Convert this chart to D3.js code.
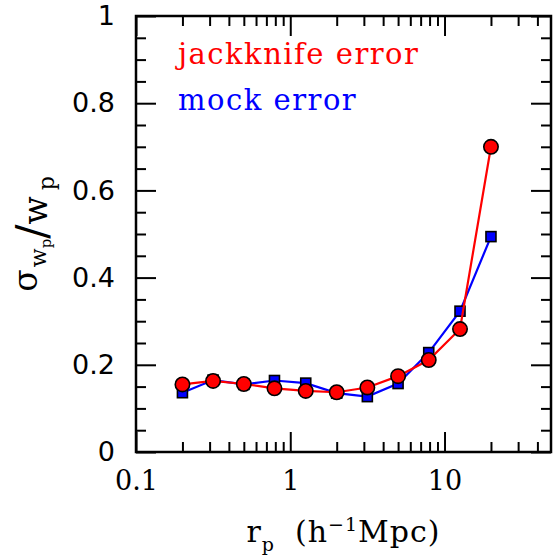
<!DOCTYPE html>
<html>
<head>
<meta charset="utf-8">
<script src="https://cdn.jsdelivr.net/npm/d3@7"></script>
<style>
  body { margin: 0; background: #fff; }
  svg { display: block; }
</style>
</head>
<body>
<div id="chart"></div>
<script>
// ---------------------------------------------------------------------------
// DATA
// ---------------------------------------------------------------------------
const rp = [0.2, 0.316, 0.5, 0.79, 1.26, 2.0, 3.16, 5.0, 7.9, 12.6, 20.0];
const jackknifeErr = [0.155, 0.163, 0.156, 0.146, 0.140, 0.137, 0.148, 0.174, 0.211, 0.282, 0.700];
const mockErr      = [0.136, 0.165, 0.155, 0.164, 0.158, 0.135, 0.127, 0.157, 0.228, 0.323, 0.494];

const xMajor = [0.1, 1, 10];
const xMinor = [0.2, 0.3, 0.4, 0.5, 0.6, 0.7, 0.8, 0.9, 2, 3, 4, 5, 6, 7, 8, 9, 20, 30, 40];
const yMajor = [0, 0.2, 0.4, 0.6, 0.8, 1];
const yMinor = d3.range(0, 1.0001, 0.05).filter(v => Math.abs(v * 5 - Math.round(v * 5)) > 1e-6);

const legendItems = [
  { label: "jackknife error", color: "#ff0000" },
  { label: "mock error",      color: "#0000ff" }
];

// ---------------------------------------------------------------------------
// SVG setup
// ---------------------------------------------------------------------------
const W = 554, H = 558;
const margin = { top: 16, right: 3, bottom: 106, left: 136 };
const width = W - margin.left - margin.right;
const height = H - margin.top - margin.bottom;

const svg = d3.select("#chart").append("svg")
  .attr("width", W)
  .attr("height", H);

const g = svg.append("g")
  .attr("transform", `translate(${margin.left},${margin.top})`);

const x = d3.scaleLog().domain([0.1, 49]).range([0, width]);
const y = d3.scaleLinear().domain([0, 1]).range([height, 0]);

const serif = "'DejaVu Serif', serif";
const sans = "'DejaVu Sans', sans-serif";

// ---------- axes (ticks point inward on all four sides) ----------
function styleAxis(sel) {
  sel.select(".domain").remove();
  sel.selectAll(".tick line").attr("stroke", "#000").attr("stroke-width", 2);
}

// bottom
g.append("g").attr("transform", `translate(0,${height})`)
  .call(d3.axisBottom(x).tickValues(xMajor).tickSize(-20).tickPadding(19)
    .tickFormat(d => d3.format("")(d)))
  .call(styleAxis)
  .call(s => s.selectAll("text").attr("font-family", serif).attr("font-size", 27).attr("fill", "#000"));
g.append("g").attr("transform", `translate(0,${height})`)
  .call(d3.axisBottom(x).tickValues(xMinor).tickSize(-10).tickFormat(""))
  .call(styleAxis);
// top
g.append("g")
  .call(d3.axisTop(x).tickValues(xMajor).tickSize(-20).tickFormat(""))
  .call(styleAxis);
g.append("g")
  .call(d3.axisTop(x).tickValues(xMinor).tickSize(-10).tickFormat(""))
  .call(styleAxis);
// left
g.append("g")
  .call(d3.axisLeft(y).tickValues(yMajor).tickSize(-20).tickPadding(21)
    .tickFormat(d => d3.format("")(+d.toFixed(1))))
  .call(styleAxis)
  .call(s => s.selectAll("text").attr("font-family", sans).attr("font-size", 27).attr("fill", "#000"));
g.append("g")
  .call(d3.axisLeft(y).tickValues(yMinor).tickSize(-10).tickFormat(""))
  .call(styleAxis);
// right
g.append("g").attr("transform", `translate(${width},0)`)
  .call(d3.axisRight(y).tickValues(yMajor).tickSize(-20).tickFormat(""))
  .call(styleAxis);
g.append("g").attr("transform", `translate(${width},0)`)
  .call(d3.axisRight(y).tickValues(yMinor).tickSize(-10).tickFormat(""))
  .call(styleAxis);

// frame
g.append("rect")
  .attr("width", width).attr("height", height)
  .attr("fill", "none").attr("stroke", "#000").attr("stroke-width", 2.5);

// ---------- series ----------
const line = d3.line().x(d => x(d[0])).y(d => y(d[1]));

const mockPts = rp.map((r, i) => [r, mockErr[i]]);
const jackPts = rp.map((r, i) => [r, jackknifeErr[i]]);

g.append("path").datum(mockPts)
  .attr("d", line).attr("fill", "none")
  .attr("stroke", "#0000ff").attr("stroke-width", 2.2);

const sq = 10;
g.selectAll(".sq").data(mockPts).enter().append("rect")
  .attr("class", "sq")
  .attr("x", d => x(d[0]) - sq / 2).attr("y", d => y(d[1]) - sq / 2)
  .attr("width", sq).attr("height", sq)
  .attr("fill", "#0000ff").attr("stroke", "#000").attr("stroke-width", 1.6);

g.append("path").datum(jackPts)
  .attr("d", line).attr("fill", "none")
  .attr("stroke", "#ff0000").attr("stroke-width", 2.2);

g.selectAll(".dot").data(jackPts).enter().append("circle")
  .attr("class", "dot")
  .attr("cx", d => x(d[0])).attr("cy", d => y(d[1]))
  .attr("r", 7.2)
  .attr("fill", "#ff0000").attr("stroke", "#000").attr("stroke-width", 1.6);

// ---------- legend ----------
g.selectAll(".leg").data(legendItems).enter().append("text")
  .attr("class", "leg")
  .attr("x", 42)
  .attr("y", (d, i) => 48 + i * 46)
  .attr("font-family", serif).attr("font-size", 29)
  .attr("letter-spacing", 1.5)
  .attr("fill", d => d.color)
  .text(d => d.label);

// ---------- axis labels ----------
const xl = svg.append("text")
  .attr("x", margin.left + width / 2).attr("y", 542)
  .attr("text-anchor", "middle")
  .attr("font-family", serif).attr("font-size", 30)
  .attr("letter-spacing", 1);
xl.append("tspan").text("r");
xl.append("tspan").attr("font-size", 19).attr("dy", 9).text("p");
xl.append("tspan").attr("dy", -9).attr("dx", 20).text("(h");
xl.append("tspan").attr("font-size", 19).attr("dy", -11).text("−1");
xl.append("tspan").attr("dy", 11).text("Mpc)");

const yl = svg.append("text")
  .attr("transform", `translate(37,${margin.top + height / 2}) rotate(-90)`)
  .attr("text-anchor", "middle")
  .attr("font-family", serif).attr("font-size", 33);
yl.append("tspan").text("σ");
yl.append("tspan").attr("font-size", 22).attr("dy", 9).attr("dx", 2).text("w");
yl.append("tspan").attr("font-size", 15).attr("dy", 5).text("p");
yl.append("tspan").attr("font-size", 42).attr("dy", -5).text("/");
yl.append("tspan").attr("dy", 1).text("w");
yl.append("tspan").attr("font-size", 22).attr("dy", 7).attr("dx", 6).text("p");
</script>
</body>
</html>
